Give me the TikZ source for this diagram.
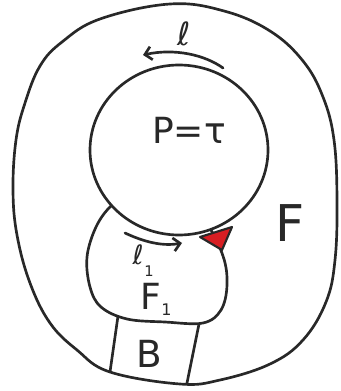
\documentclass[tikz,border=0pt]{standalone}
\usepackage{fontspec}
\setmainfont{DejaVu Sans}
\usetikzlibrary{arrows.meta}
\definecolor{ink}{RGB}{40,40,40}
\definecolor{redfill}{RGB}{215,30,35}
\begin{document}
\begin{tikzpicture}[x=0.75pt,y=-0.75pt,
  pen/.style={draw=ink,line width=2pt,line join=round,line cap=round},
  lbl/.style={text=ink,inner sep=0pt},
  arr/.style={pen,-{Straight Barb[length=5pt,width=10pt]}}]
\useasboundingbox (0,0) rectangle (340,391);
% outer oval
\draw[pen] plot[smooth cycle,tension=0.65] coordinates {
 (170,4) (224,11) (270,31) (303,61) (323,97) (334,140) (337,200)
 (335,260) (326,302) (303,340) (270,364) (220,380) (180,384)
 (110,372) (77,350) (50,323) (30,283) (17,235) (13,190) (16,140)
 (25,103) (40,66) (62,42) (100,19)};
% box B
\coordinate (btl) at (118,316);
\coordinate (bbl) at (110,372);
\coordinate (btr) at (199,324);
\coordinate (bbr) at (187,383);
\draw[pen] (btl) -- (bbl) (btr) -- (bbr);
% lower blob F1
\draw[pen,fill=white] plot[smooth cycle,tension=0.6] coordinates {
 (111,206) (96,227) (87,257) (90,287) (101,307) (127,319) (165,322)
 (203,323) (221,310) (227,285) (223,256) (205,222) (170,195) (130,195)};
% big circle
\draw[pen,fill=white] (179,150) ellipse [x radius=89, y radius=85];
% red triangle
\draw[pen,fill=redfill,line width=1.6pt] (200,237) -- (232,227) -- (222,250) -- cycle;
% arrows
\coordinate (la) at (223,68);
\coordinate (lb) at (143,55);
\draw[arr] (la) .. controls (205,55) and (175,48) .. (lb);
\coordinate (ma) at (125,233);
\coordinate (mb) at (182,243);
\draw[arr] (ma) .. controls (140,240) and (160,247) .. (mb);
% labels
\node[lbl,font=\fontsize{24}{24}\selectfont] (tl) at (184,34) {ℓ};
\node[lbl,font=\fontsize{20}{20}\selectfont,anchor=east] (tl1) at (144,255) {ℓ};
\node[lbl,font=\fontsize{11}{11}\selectfont,anchor=north west] (tl1s) at (tl1.south east) {1};
\node[lbl,font=\fontsize{27}{27}\selectfont] (tp) at (189,130) {P=τ};
\node[lbl,font=\fontsize{38}{38}\selectfont] (tF) at (290,223) {F};
\node[lbl,font=\fontsize{27}{27}\selectfont,anchor=east] (tF1) at (161,296) {F};
\node[lbl,font=\fontsize{12}{12}\selectfont,anchor=north west] (tF1s) at ([yshift=4pt]tF1.south east) {1};
\node[lbl,font=\fontsize{28}{28}\selectfont] (tB) at (149,354) {B};
\end{tikzpicture}
\end{document}
